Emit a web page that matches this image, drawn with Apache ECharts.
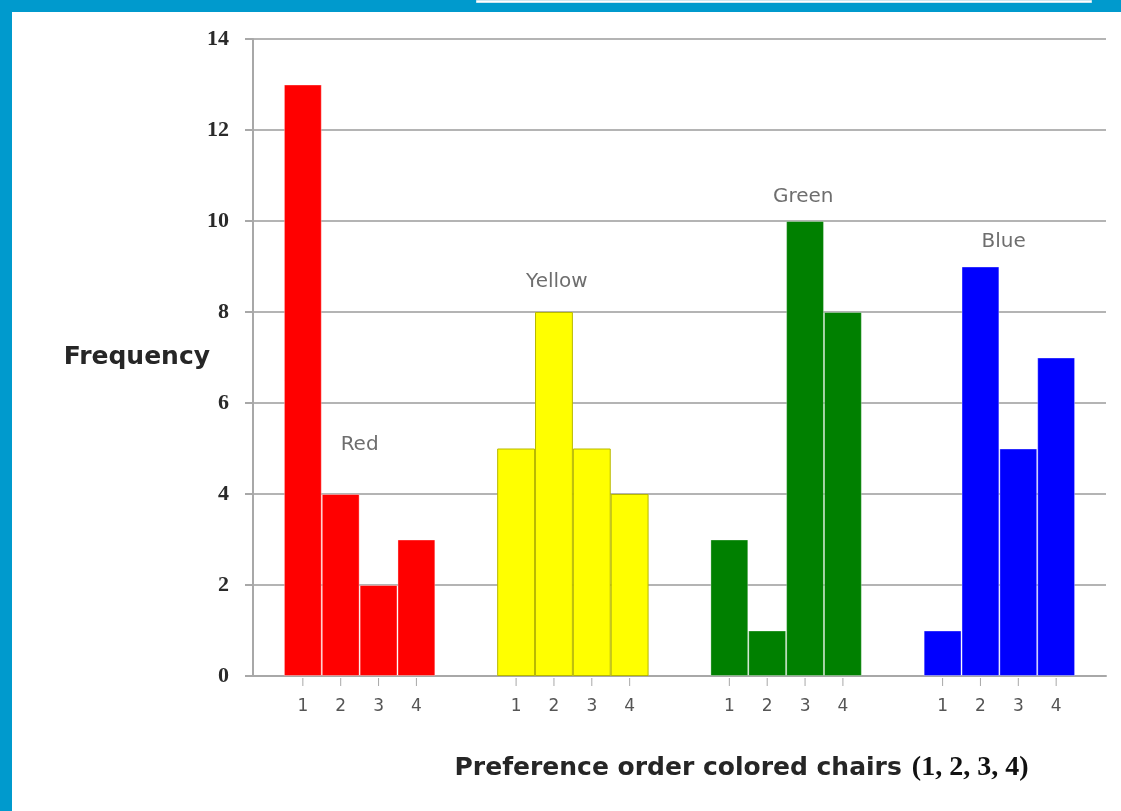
<!DOCTYPE html>
<html>
	<head>
		<meta charset="utf-8" />
    <title>Preference order colored chairs</title>
    <style>
      html, body { margin: 0; padding: 0; background: #fff; }
      #chartBox { width: 1121px; height: 811px; }
    </style>
	</head>
	<body>
    <div id="chartBox"></div>
  </body>
	<script src="https://cdn.jsdelivr.net/npm/echarts@6/dist/echarts.min.js"></script>
  <script>
    // data
    var groups = ['Red', 'Yellow', 'Green', 'Blue'];
    var rankNames = ['1', '2', '3', '4'];
    var rank1 = [13, 5, 3, 1];
    var rank2 = [4, 8, 1, 9];
    var rank3 = [2, 5, 10, 5];
    var rank4 = [3, 4, 8, 7];
    var yTicks = [0, 2, 4, 6, 8, 10, 12, 14];
    // where the colour names sit (group units / frequency units)
    var nameX = [0.0, 0.925, 2.08, 3.02];
    var nameY = [5.08, 8.66, 10.53, 9.54];

    var groupColors = ['#ff0000', '#ffff00', '#008000', '#0000ff'];
    var groupBorders = ['rgba(255,255,255,0.35)', '#b8b800', 'rgba(255,255,255,0.3)', 'rgba(255,255,255,0.35)'];

    function makeBarSeries(idx, vals) {
      return {
        name: rankNames[idx],
        type: 'bar',
        barGap: 0,
        barCategoryGap: '29%',
        data: vals.map(function (v, i) {
          return {
            value: v,
            itemStyle: { color: groupColors[i], borderColor: groupBorders[i], borderWidth: 1 }
          };
        }),
        label: {
          show: true,
          position: 'bottom',
          distance: 2,
          formatter: '{t|}\n{n|' + rankNames[idx] + '}',
          rich: {
            t: { width: 1, height: 8, lineHeight: 8, backgroundColor: '#a8a8a8' },
            n: { fontFamily: 'DejaVu Sans', fontSize: 17, color: '#555', lineHeight: 42 }
          }
        },
        emphasis: { disabled: true }
      };
    }

    var chart = echarts.init(document.getElementById('chartBox'));
    var option = {
      backgroundColor: '#fff',
      animation: false,
      graphic: [
        { type: 'rect', left: 0, top: 0, shape: { width: 12, height: 811 }, style: { fill: '#009acd' } },
        { type: 'rect', left: 0, top: 0, shape: { width: 1121, height: 12 }, style: { fill: '#009acd' } },
        { type: 'rect', left: 476, top: 0, shape: { width: 615, height: 2 }, style: { fill: '#fff', stroke: '#cfe6f0', lineWidth: 1 } }
      ],
      grid: { left: 253, right: 15, top: 39, bottom: 135 },
      xAxis: [{
        type: 'category',
        data: groups,
        name: '{a|Preference order colored chairs}   {b|(1, 2, 3, 4)}',
        nameLocation: 'middle',
        nameGap: 78,
        nameTextStyle: {
          padding: [0, 0, 0, 124],
          rich: {
            a: { fontFamily: 'DejaVu Sans', fontWeight: 'bold', fontSize: 25, color: '#262626' },
            b: { fontFamily: 'Liberation Serif', fontWeight: 'bold', fontSize: 28, color: '#111' }
          }
        },
        axisLine: { lineStyle: { color: '#a8a8a8', width: 2 } },
        axisTick: { show: false },
        axisLabel: { show: false },
        splitLine: { show: false }
      }, {
        type: 'value',
        min: -0.5,
        max: 3.5,
        show: false
      }],
      yAxis: {
        type: 'value',
        min: yTicks[0],
        max: yTicks[yTicks.length - 1],
        interval: 2,
        name: 'Frequency',
        nameLocation: 'middle',
        nameRotate: 0,
        nameGap: 43,
        nameMoveOverlap: false,
        nameTextStyle: {
          fontFamily: 'DejaVu Sans', fontWeight: 'bold', fontSize: 25, color: '#262626',
          align: 'right', padding: [0, 0, 34, 0]
        },
        axisLine: { show: true, onZero: false, lineStyle: { color: '#a8a8a8', width: 2 } },
        axisTick: { show: true, length: 8, lineStyle: { color: '#a8a8a8', width: 2 } },
        axisLabel: {
          margin: 24,
          fontFamily: 'Liberation Serif', fontWeight: 'bold', fontSize: 22, color: '#2a2a2a'
        },
        splitLine: { show: true, lineStyle: { color: '#b4b4b4', width: 2 } }
      },
      series: [
        makeBarSeries(0, rank1),
        makeBarSeries(1, rank2),
        makeBarSeries(2, rank3),
        makeBarSeries(3, rank4),
        {
          type: 'scatter',
          xAxisIndex: 1,
          symbolSize: 0,
          silent: true,
          data: groups.map(function (g, i) { return { name: g, value: [nameX[i], nameY[i]] }; }),
          label: {
            show: true,
            position: 'inside',
            formatter: '{b}',
            fontFamily: 'DejaVu Sans', fontSize: 20, color: '#4a4a4a'
          }
        }
      ]
    };
    chart.setOption(option);
  </script>
</html>
